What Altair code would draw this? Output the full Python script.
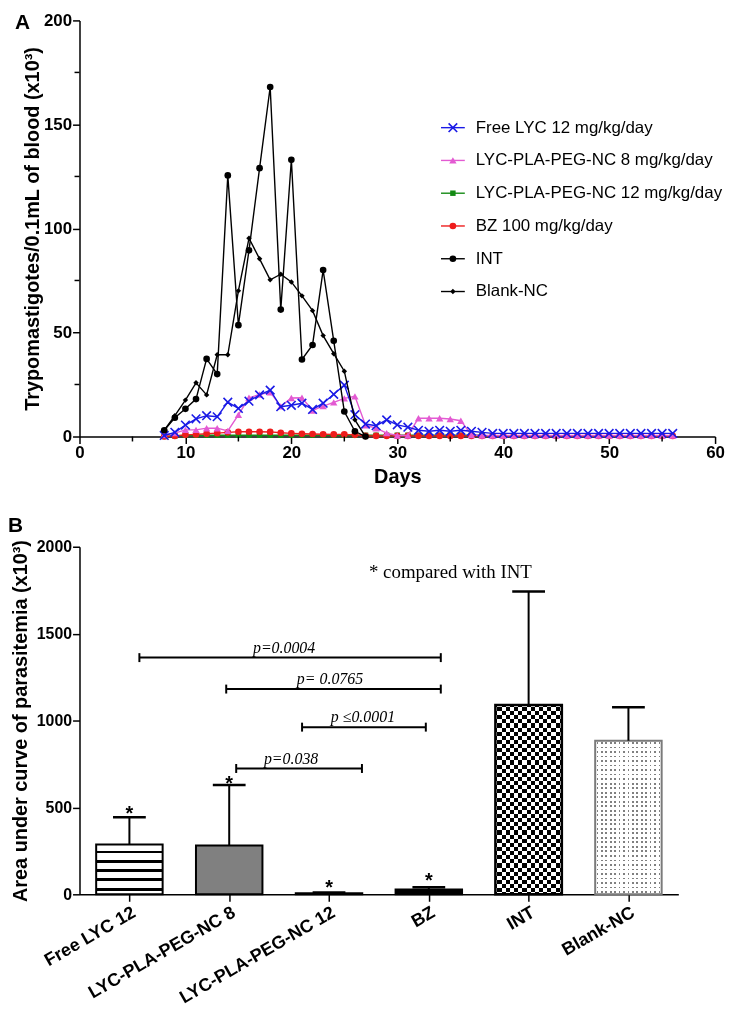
import altair as alt
import pandas as pd

# ---------------- Panel A data ----------------
SERIES = ["Free LYC 12 mg/kg/day", "LYC-PLA-PEG-NC 8 mg/kg/day",
          "LYC-PLA-PEG-NC 12 mg/kg/day", "BZ 100 mg/kg/day", "INT", "Blank-NC"]
COLORS = ["#1a1ae6", "#e35ad2", "#138a13", "#ee1c1c", "#000000", "#000000"]

days_free = list(range(8, 57))
free_lyc = [0.5, 2, 5.5, 8.5, 10, 9.5, 16.5, 13.5, 17, 20, 22.3, 14.3, 15, 16, 13, 16,
            20.3, 24.7, 10.5, 6, 5.2, 8, 5.6, 4.5, 3, 2.5, 3, 2.5, 3, 2.5, 2, 1.5,
            1.5, 1.5, 1.5, 1.5, 1.5, 1.5, 1.5, 1.5, 1.5, 1.5, 1.5, 1.5, 1.5, 1.5, 1.5, 1.5, 1.5]

days_lyc8 = list(range(8, 57))
lyc8 = [0.7, 1.6, 3.2, 3.2, 4, 4, 2.7, 10.4, 18.6, 20.2, 21.3, 14.5, 18.5, 18.6, 12.5,
        14.6, 16.4, 18.3, 19.3, 5.4, 4, 1.6, 0.5, 0.5, 8.8, 8.8, 8.8, 8.4, 7.6, 0.7,
        0.5, 0.5, 0.5, 0.5, 0.5, 0.5, 0.5, 0.5, 0.5, 0.5, 0.5, 0.5, 0.5, 0.5, 0.5, 0.5, 0.5, 0.5, 0.5]

days_lyc12 = list(range(8, 39))
lyc12 = [0, 0.3, 0.6, 0.6, 0.6, 0.6, 0.6, 0.6, 0.6, 0.6, 0.6, 0.6, 0.6, 0.6, 0.6, 0.6,
         0.6, 0.6, 0.6, 0.6, 0.6, 0.6, 0.6, 0.6, 0.6, 0.6, 0.6, 0.6, 0.6, 0.6, 0.6]

days_bz = list(range(8, 57))
bz = [0, 0.3, 0.8, 1, 1.3, 1.6, 2, 2.3, 2.3, 2.3, 2.2, 1.8, 1.5, 1.3, 1.2, 1.1, 1, 1, 0.8,
      0.3, 0.3, 0.3, 0.3, 0.3, 0.3, 0.3, 0.3, 0.3, 0.3, 0.3, 0.3, 0.3, 0.3, 0.3, 0.3,
      0.3, 0.3, 0.3, 0.3, 0.3, 0.3, 0.3, 0.3, 0.3, 0.3, 0.3, 0.3, 0.3, 0.3]

days_int = list(range(8, 28))
int_vals = [3, 9, 13.3, 18, 37.3, 30, 125.5, 53.5, 89.5, 129, 168, 61, 133, 37, 44, 80,
            46, 12, 2.5, 0]

days_blank = list(range(8, 28))
blank_nc = [3, 10, 17.5, 25.8, 20, 39.3, 39.3, 70, 95.3, 85.4, 75.3, 78, 74.3, 67.6,
            60.5, 48.5, 39.8, 31.4, 8, 0]

x_ticks_a = [0, 10, 20, 30, 40, 50, 60]
x_minor_a = [5, 15, 25, 35, 45, 55]
y_ticks_a = [0, 50, 100, 150, 200]
y_minor_a = [25, 75, 125, 175]

# ---------------- Panel B data ----------------
GROUPS = ["Free LYC 12", "LYC-PLA-PEG-NC 8", "LYC-PLA-PEG-NC 12", "BZ", "INT", "Blank-NC"]
AUC_MEAN = [287, 281, 6, 28, 1090, 884]
AUC_SD = [156, 348, 5, 12, 652, 193]
STAR_GROUPS = [0, 1, 2, 3]
STAR_AT = [485, 656, 61, 101]

BRACKET_TEXT = ["p=0.0004", "p= 0.0765", "p \u22640.0001", "p=0.038"]
BRACKET_Y = [1362, 1181, 962, 724]
BRACKET_FROM = [0.6, 1.47, 2.23, 1.57]
BRACKET_TO = [3.62, 3.62, 3.47, 2.83]
BRACKET_TEXT_X = [2.05, 2.51, 2.84, 2.12]
y_ticks_b = [0, 500, 1000, 1500, 2000]

# ---------------- tables ----------------
rows = []
for name, dd, vv in zip(SERIES, [days_free, days_lyc8, days_lyc12, days_bz, days_int, days_blank],
                        [free_lyc, lyc8, lyc12, bz, int_vals, blank_nc]):
    for d, v in zip(dd, vv):
        rows.append({"series": name, "day": d, "value": v})
df_a = pd.DataFrame(rows)
df_leg = pd.DataFrame({"series": SERIES, "row": list(range(len(SERIES)))})

W_A, H_A = 640, 419
W_B, H_B = 603, 350
FONT = "Arial"

xs_a = alt.Scale(domain=[0, 60], nice=False, zero=False)
ys_a = alt.Scale(domain=[0, 200], nice=False)

x_axis_a = alt.Axis(values=x_ticks_a, title="Days", titleFontSize=20, titlePadding=6,
                    labelFontSize=17, labelFlush=False)
y_axis_a = alt.Axis(values=y_ticks_a, title="Trypomastigotes/0.1mL of blood (x10\u00b3)",
                    titleFontSize=20, titlePadding=1, labelFontSize=17)

marker = {
    SERIES[0]: dict(shape="M-1,-1L1,1M-1,1L1,-1", filled=False, size=75, strokeWidth=1.6),
    SERIES[1]: dict(shape="triangle-up", filled=True, size=55),
    SERIES[2]: dict(shape="square", filled=True, size=30),
    SERIES[3]: dict(shape="circle", filled=True, size=45),
    SERIES[4]: dict(shape="circle", filled=True, size=45),
    SERIES[5]: dict(shape="diamond", filled=True, size=30),
}

layers_a = []
base_a = alt.Chart(df_a)
for i in [2, 3, 1, 0, 5, 4]:
    s = SERIES[i]
    sub = base_a.transform_filter(alt.datum.series == s)
    xe = alt.X("day:Q", scale=xs_a, axis=x_axis_a)
    ye = alt.Y("value:Q", scale=ys_a, axis=y_axis_a)
    layers_a.append(sub.mark_line(strokeWidth=1.4, color=COLORS[i]).encode(x=xe, y=ye))
    layers_a.append(sub.mark_point(color=COLORS[i], opacity=1, **marker[s]).encode(x=xe, y=ye))

# minor ticks
layers_a.append(alt.Chart(pd.DataFrame({"v": y_minor_a})).mark_rule(color="black", strokeWidth=1.5)
                .encode(y=alt.Y("v:Q", scale=ys_a), x=alt.value(-5), x2=alt.value(0)))
layers_a.append(alt.Chart(pd.DataFrame({"d": x_minor_a})).mark_rule(color="black", strokeWidth=1.5)
                .encode(x=alt.X("d:Q", scale=xs_a), y=alt.value(H_A), y2=alt.value(H_A + 5)))

# custom legend
for i, s in enumerate(SERIES):
    ly = 108 + 33 * i
    leg = alt.Chart(df_leg).transform_filter(alt.datum.series == s)
    layers_a.append(leg.mark_rule(color=COLORS[i], strokeWidth=1.4)
                    .encode(x=alt.value(364), x2=alt.value(388), y=alt.value(ly)))
    layers_a.append(leg.mark_point(color=COLORS[i], opacity=1, **marker[s])
                    .encode(x=alt.value(376), y=alt.value(ly)))
    layers_a.append(leg.mark_text(align="left", baseline="middle", font=FONT, fontSize=17,
                                  color="black")
                    .encode(x=alt.value(399), y=alt.value(ly), text="series:N"))

layers_a.append(alt.Chart(pd.DataFrame({"t": ["A"]})).mark_text(
    align="left", baseline="top", font=FONT, fontSize=21, fontWeight="bold", color="black")
    .encode(x=alt.value(-65), y=alt.value(-8), text="t:N"))

top = alt.layer(*layers_a).properties(width=W_A, height=H_A)

# ---------------- Panel B ----------------
df_b = pd.DataFrame({"group": GROUPS, "idx": list(range(6)), "mean": AUC_MEAN, "sd": AUC_SD})
df_b["xl"] = df_b["idx"] + 0.167
df_b["xr"] = df_b["idx"] + 0.833
df_b["xc"] = df_b["idx"] + 0.5
df_b["top"] = df_b["mean"] + df_b["sd"]

xs_b = alt.Scale(domain=[0, 6], nice=False, zero=False)
ys_b = alt.Scale(domain=[0, 2000], nice=False)
label_expr = "[" + ",".join("'" + g + "'" for g in GROUPS) + "][floor(datum.value)]"
x_axis_b = alt.Axis(values=[0.5, 1.5, 2.5, 3.5, 4.5, 5.5], labelExpr=label_expr, title=None,
                    labelAngle=-30, labelAlign="right", labelBaseline="top", labelFontSize=18,
                    labelPadding=2, labelOverlap=False, labelBound=False)
y_axis_b = alt.Axis(values=y_ticks_b, format="d", title="Area under curve of parasitemia (x10\u00b3)",
                    titleFontSize=20, titlePadding=6, labelFontSize=16)


def band_stops(centers, half, light, dark):
    stops = [{"offset": 0, "color": light}]
    for c in centers:
        a, b = max(c - half, 0), min(c + half, 1)
        stops += [{"offset": a, "color": light}, {"offset": a, "color": dark},
                  {"offset": b, "color": dark}, {"offset": b, "color": light}]
    stops.append({"offset": 1, "color": light})
    return stops


def stripes(n, dark_frac, light, dark, vertical=False):
    centers = [(k + 0.5) / n for k in range(n)]
    g = {"gradient": "linear", "stops": band_stops(centers, dark_frac / (2 * n), light, dark)}
    if vertical:
        g.update({"x1": 0, "y1": 0, "x2": 1, "y2": 0})
    else:
        g.update({"x1": 0, "y1": 0, "x2": 0, "y2": 1})
    return g


free_fill = {"gradient": "linear", "x1": 0, "y1": 0, "x2": 0, "y2": 1,
             "stops": band_stops([0.15, 0.34, 0.53, 0.71, 0.90], 0.028, "white", "black")}

base_b = alt.Chart(df_b)
bx = alt.X("xl:Q", scale=xs_b, axis=x_axis_b)
bx2 = alt.X2("xr:Q")
by = alt.Y("mean:Q", scale=ys_b, axis=y_axis_b)
by2 = alt.Y2(datum=0)


def bar_layer(g, **kw):
    return base_b.transform_filter(alt.datum.group == g).mark_rect(**kw).encode(
        x=bx, x2=bx2, y=by, y2=by2)


layers_b = [
    bar_layer(GROUPS[0], fill=free_fill, stroke="black", strokeWidth=2),
    bar_layer(GROUPS[1], fill="#808080", stroke="black", strokeWidth=2),
    bar_layer(GROUPS[2], fill="black", stroke="black", strokeWidth=2),
    bar_layer(GROUPS[3], fill="black", stroke="black", strokeWidth=2),
    bar_layer(GROUPS[4], fill=stripes(23, 0.5, "white", "black")),
    bar_layer(GROUPS[4], fill=stripes(8, 0.5, "white", "black", vertical=True), blend="difference"),
    bar_layer(GROUPS[4], fillOpacity=0, stroke="black", strokeWidth=2.5),
    bar_layer(GROUPS[5], fill=stripes(34, 0.4, "white", "#808080")),
    bar_layer(GROUPS[5], fill=stripes(15, 0.4, "white", "#808080", vertical=True), blend="lighten"),
    bar_layer(GROUPS[5], fillOpacity=0, stroke="#7a7a7a", strokeWidth=2),
]

layers_b.append(base_b.mark_rule(color="black", strokeWidth=2).encode(
    x=alt.X("xc:Q", scale=xs_b), y=alt.Y("mean:Q", scale=ys_b), y2="top:Q"))
layers_b.append(base_b.mark_tick(orient="horizontal", size=33, thickness=2.5, color="black",
                                 opacity=1).encode(
    x=alt.X("xc:Q", scale=xs_b), y=alt.Y("top:Q", scale=ys_b)))

df_star = pd.DataFrame({"xc": [g + 0.5 for g in STAR_GROUPS], "y": STAR_AT, "t": ["*"] * 4})
layers_b.append(alt.Chart(df_star).mark_text(font=FONT, fontSize=20, fontWeight="bold",
                                             baseline="alphabetic", dy=10, color="black")
                .encode(x=alt.X("xc:Q", scale=xs_b), y=alt.Y("y:Q", scale=ys_b), text="t:N"))

df_br = pd.DataFrame({"t": BRACKET_TEXT, "y": BRACKET_Y, "x1": BRACKET_FROM, "x2": BRACKET_TO,
                      "tx": BRACKET_TEXT_X})
br = alt.Chart(df_br)
layers_b.append(br.mark_rule(color="black", strokeWidth=2).encode(
    x=alt.X("x1:Q", scale=xs_b), x2="x2:Q", y=alt.Y("y:Q", scale=ys_b)))
layers_b.append(br.mark_tick(orient="vertical", size=9, thickness=2, color="black", opacity=1)
                .encode(x=alt.X("x1:Q", scale=xs_b), y=alt.Y("y:Q", scale=ys_b)))
layers_b.append(br.mark_tick(orient="vertical", size=9, thickness=2, color="black", opacity=1)
                .encode(x=alt.X("x2:Q", scale=xs_b), y=alt.Y("y:Q", scale=ys_b)))
layers_b.append(br.mark_text(font="Times New Roman", fontStyle="italic", fontSize=16,
                             baseline="alphabetic", dy=-5, color="black")
                .encode(x=alt.X("tx:Q", scale=xs_b), y=alt.Y("y:Q", scale=ys_b), text="t:N"))

df_note = pd.DataFrame({"t": ["* compared with INT"], "x": [2.9], "y": [1823]})
layers_b.append(alt.Chart(df_note).mark_text(font="Times New Roman", fontSize=19, align="left",
                                             baseline="alphabetic", color="black")
                .encode(x=alt.X("x:Q", scale=xs_b), y=alt.Y("y:Q", scale=ys_b), text="t:N"))

layers_b.append(alt.Chart(pd.DataFrame({"t": ["B"]})).mark_text(
    align="left", baseline="top", font=FONT, fontSize=21, fontWeight="bold", color="black")
    .encode(x=alt.value(-72), y=alt.value(-32), text="t:N"))

bottom = alt.layer(*layers_b).properties(width=W_B, height=H_B)

chart = alt.vconcat(top, bottom, spacing=29, padding=0).configure_view(stroke=None).configure_axis(
    grid=False, domainColor="black", domainWidth=1.5, tickColor="black", tickWidth=1.5,
    tickSize=7, labelColor="black", titleColor="black", labelFont=FONT, titleFont=FONT,
    labelFontWeight="bold", titleFontWeight="bold", labelPadding=1
).configure_concat(spacing=29)

chart.save("out.html", embed_options={"renderer": "svg", "actions": False})
